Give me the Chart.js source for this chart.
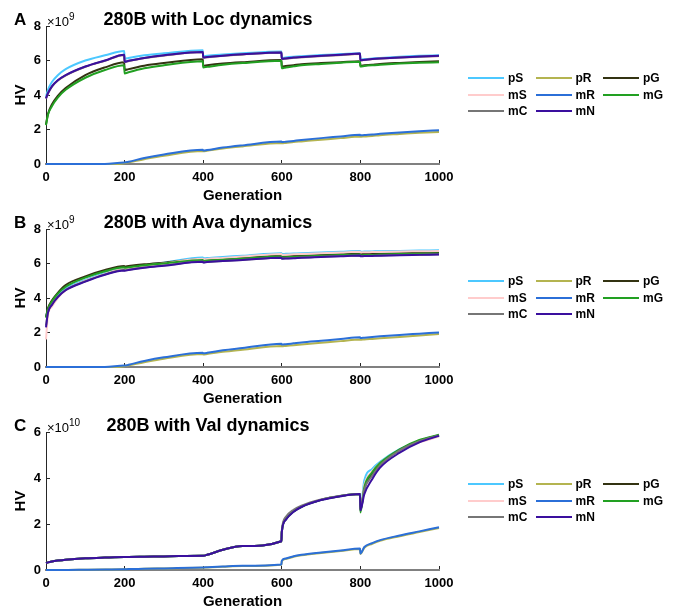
<!DOCTYPE html>
<html>
<head>
<meta charset="utf-8">
<script src="https://cdn.jsdelivr.net/npm/chart.js@4.4.0/dist/chart.umd.min.js"></script>
<style>
body { margin: 0; background: #fff; font-family: "Liberation Sans", Arial, sans-serif; }
.panel { position: absolute; left: 0; width: 689px; height: 205px; }
.panel canvas { position: absolute; left: 0; top: 0; }
.tag, .ttl, .exp { position: absolute; line-height: 1; white-space: nowrap; color: #000; }
.tag { left: 14px; top: 11px; font-size: 17px; font-weight: bold; }
.ttl { left: 8px; width: 400px; text-align: center; top: 10px; font-size: 18px; font-weight: bold; }
.exp { left: 47px; top: 12px; font-size: 13px; }
.exp span { font-size: 10px; vertical-align: 6px; }
.leg { position: absolute; left: 468px; top: 70px; width: 210px; }
.leg .it { position: absolute; display: flex; align-items: center; height: 16px; font-size: 12px; font-weight: bold; }
.leg .ln { width: 36px; height: 2px; margin-right: 4px; }
</style>
</head>
<body>
<div class="panel" id="pA"><canvas id="cA" width="689" height="205"></canvas></div>
<div class="panel" id="pB" style="top:203px"><canvas id="cB" width="689" height="205"></canvas></div>
<div class="panel" id="pC" style="top:406px"><canvas id="cC" width="689" height="205"></canvas></div>
<script>
// 세대(x축)
const gens = [0, 5, 15, 30, 50, 100, 150, 199, 200, 210, 250, 300, 399, 400, 410, 450, 500, 599, 600, 610, 630, 650, 700, 750, 799, 800, 810, 830, 850, 900, 950, 1000];

const names = ["pS", "pR", "pG", "mS", "mR", "mG", "mC", "mN"];
const colors = ["#4cc8ff", "#b4b450", "#333312", "#ffcccc", "#2b6fd8", "#22a022", "#767676", "#3a0f9e"];

// A: Loc dynamics (x1e9)
const locPS = [3.9, 4.3, 4.75, 5.15, 5.5, 6.0, 6.3, 6.55, 6.1, 6.15, 6.3, 6.42, 6.6, 6.25, 6.28, 6.35, 6.42, 6.52, 6.15, 6.18, 6.22, 6.25, 6.32, 6.37, 6.42, 6.05, 6.08, 6.12, 6.15, 6.22, 6.27, 6.3];
const locPR = [0, 0, 0, 0, 0, 0, 0, 0.05, 0.06, 0.1, 0.28, 0.48, 0.76, 0.74, 0.77, 0.9, 1.02, 1.22, 1.2, 1.22, 1.27, 1.31, 1.41, 1.5, 1.6, 1.58, 1.6, 1.63, 1.67, 1.74, 1.81, 1.86];
const locPG = [2.3, 2.9, 3.45, 3.95, 4.4, 5.15, 5.6, 5.9, 5.45, 5.5, 5.7, 5.85, 6.07, 5.7, 5.73, 5.82, 5.9, 6.03, 5.65, 5.68, 5.73, 5.78, 5.85, 5.9, 5.95, 5.7, 5.72, 5.76, 5.8, 5.86, 5.91, 5.95];
const locMS = [3.78, 4.08, 4.48, 4.83, 5.13, 5.63, 5.98, 6.31, 5.91, 5.96, 6.13, 6.28, 6.48, 6.16, 6.18, 6.26, 6.34, 6.45, 6.08, 6.1, 6.15, 6.18, 6.25, 6.31, 6.38, 6.0, 6.02, 6.07, 6.1, 6.16, 6.21, 6.25];
const locMR = [0, 0, 0, 0, 0, 0, 0, 0.09, 0.09, 0.13, 0.35, 0.55, 0.82, 0.78, 0.81, 0.95, 1.08, 1.3, 1.27, 1.29, 1.34, 1.39, 1.5, 1.6, 1.7, 1.66, 1.68, 1.71, 1.75, 1.83, 1.9, 1.96];
const locMG = [2.25, 2.85, 3.35, 3.85, 4.3, 5.0, 5.45, 5.72, 5.25, 5.32, 5.55, 5.72, 5.95, 5.6, 5.63, 5.75, 5.85, 5.98, 5.55, 5.6, 5.66, 5.72, 5.8, 5.87, 5.93, 5.65, 5.68, 5.72, 5.75, 5.82, 5.87, 5.9];
const locMC = [3.79, 4.09, 4.49, 4.84, 5.14, 5.64, 5.99, 6.32, 5.92, 5.97, 6.14, 6.29, 6.49, 6.17, 6.19, 6.27, 6.35, 6.46, 6.09, 6.11, 6.16, 6.19, 6.26, 6.32, 6.39, 6.01, 6.03, 6.08, 6.11, 6.17, 6.22, 6.26];
const locMN = [3.8, 4.1, 4.5, 4.85, 5.15, 5.65, 6.0, 6.33, 5.93, 5.98, 6.15, 6.3, 6.5, 6.18, 6.2, 6.28, 6.36, 6.47, 6.1, 6.12, 6.17, 6.2, 6.27, 6.33, 6.4, 6.02, 6.04, 6.09, 6.12, 6.18, 6.23, 6.27];

// B: Ava dynamics (x1e9)
const avaPS = [2.9, 3.35, 3.75, 4.15, 4.55, 5.05, 5.45, 5.72, 5.7, 5.73, 5.9, 6.05, 6.35, 6.3, 6.32, 6.38, 6.45, 6.6, 6.55, 6.56, 6.58, 6.6, 6.64, 6.68, 6.72, 6.68, 6.69, 6.7, 6.71, 6.73, 6.75, 6.77];
const avaPR = [0, 0, 0, 0, 0, 0, 0, 0.05, 0.06, 0.1, 0.28, 0.48, 0.75, 0.72, 0.75, 0.88, 1.0, 1.22, 1.2, 1.22, 1.26, 1.3, 1.4, 1.5, 1.6, 1.58, 1.6, 1.63, 1.66, 1.74, 1.83, 1.92];
const avaPG = [2.9, 3.4, 3.85, 4.3, 4.75, 5.25, 5.62, 5.85, 5.82, 5.85, 5.95, 6.05, 6.25, 6.2, 6.22, 6.28, 6.33, 6.45, 6.4, 6.41, 6.43, 6.45, 6.5, 6.54, 6.58, 6.54, 6.55, 6.56, 6.57, 6.6, 6.61, 6.62];
const avaMS = [1.6, 3.0, 3.5, 4.0, 4.45, 5.0, 5.4, 5.68, 5.66, 5.7, 5.86, 6.0, 6.28, 6.24, 6.26, 6.32, 6.4, 6.55, 6.5, 6.51, 6.53, 6.55, 6.6, 6.64, 6.68, 6.64, 6.65, 6.66, 6.67, 6.7, 6.71, 6.72];
const avaMR = [0, 0, 0, 0, 0, 0, 0, 0.09, 0.08, 0.13, 0.35, 0.56, 0.82, 0.8, 0.82, 0.97, 1.1, 1.35, 1.3, 1.32, 1.37, 1.42, 1.52, 1.62, 1.72, 1.68, 1.7, 1.74, 1.78, 1.86, 1.93, 2.0];
const avaMG = [2.85, 3.35, 3.8, 4.25, 4.65, 5.18, 5.55, 5.78, 5.75, 5.78, 5.9, 6.0, 6.2, 6.15, 6.17, 6.22, 6.28, 6.4, 6.35, 6.36, 6.38, 6.4, 6.45, 6.49, 6.52, 6.48, 6.49, 6.5, 6.52, 6.55, 6.57, 6.58];
const avaMC = [2.4, 3.17, 3.62, 4.07, 4.47, 4.97, 5.37, 5.62, 5.6, 5.64, 5.77, 5.89, 6.11, 6.07, 6.09, 6.15, 6.21, 6.34, 6.29, 6.3, 6.32, 6.35, 6.39, 6.43, 6.47, 6.43, 6.44, 6.45, 6.46, 6.49, 6.51, 6.53];
const avaMN = [2.3, 3.15, 3.6, 4.05, 4.45, 4.95, 5.35, 5.6, 5.58, 5.62, 5.75, 5.87, 6.1, 6.06, 6.08, 6.14, 6.2, 6.33, 6.28, 6.29, 6.31, 6.34, 6.38, 6.42, 6.46, 6.42, 6.43, 6.44, 6.45, 6.48, 6.5, 6.52];

// C: Val dynamics (x1e10)
const valPS = [0.3, 0.33, 0.37, 0.41, 0.45, 0.51, 0.54, 0.56, 0.56, 0.57, 0.58, 0.59, 0.62, 0.62, 0.66, 0.88, 1.04, 1.25, 1.65, 2.2, 2.55, 2.75, 3.05, 3.22, 3.3, 2.6, 3.9, 4.4, 4.7, 5.25, 5.6, 5.83];
const valPR = [0, 0, 0, 0, 0, 0.01, 0.02, 0.03, 0.03, 0.04, 0.05, 0.07, 0.1, 0.1, 0.11, 0.14, 0.17, 0.23, 0.38, 0.48, 0.58, 0.64, 0.74, 0.83, 0.91, 0.7, 0.97, 1.14, 1.27, 1.47, 1.65, 1.83];
const valPG = [0.3, 0.33, 0.37, 0.41, 0.45, 0.51, 0.54, 0.56, 0.56, 0.57, 0.58, 0.59, 0.62, 0.62, 0.66, 0.88, 1.04, 1.25, 1.65, 2.2, 2.55, 2.75, 3.05, 3.22, 3.3, 2.6, 3.55, 4.2, 4.6, 5.22, 5.62, 5.86];
const valMS = [0.3, 0.33, 0.37, 0.41, 0.45, 0.51, 0.54, 0.56, 0.56, 0.57, 0.58, 0.59, 0.62, 0.62, 0.66, 0.88, 1.04, 1.25, 1.65, 2.22, 2.56, 2.76, 3.06, 3.22, 3.3, 2.6, 3.7, 4.3, 4.65, 5.2, 5.55, 5.8];
const valMR = [0, 0, 0, 0, 0, 0.01, 0.02, 0.03, 0.03, 0.04, 0.05, 0.07, 0.11, 0.11, 0.12, 0.15, 0.18, 0.24, 0.4, 0.5, 0.6, 0.66, 0.76, 0.85, 0.93, 0.72, 1.0, 1.17, 1.3, 1.5, 1.68, 1.86];
const valMG = [0.3, 0.33, 0.37, 0.41, 0.45, 0.51, 0.54, 0.56, 0.56, 0.57, 0.58, 0.59, 0.62, 0.62, 0.66, 0.88, 1.04, 1.25, 1.65, 2.2, 2.55, 2.75, 3.05, 3.22, 3.3, 2.5, 3.6, 4.25, 4.65, 5.25, 5.65, 5.88];
const valMC = [0.3, 0.33, 0.37, 0.41, 0.45, 0.51, 0.54, 0.56, 0.56, 0.57, 0.58, 0.59, 0.62, 0.62, 0.66, 0.88, 1.04, 1.25, 1.7, 2.3, 2.62, 2.8, 3.07, 3.23, 3.3, 2.6, 3.5, 4.1, 4.55, 5.2, 5.6, 5.85];
const valMN = [0.3, 0.33, 0.37, 0.41, 0.45, 0.51, 0.54, 0.56, 0.56, 0.57, 0.58, 0.59, 0.62, 0.62, 0.66, 0.88, 1.04, 1.25, 1.65, 2.18, 2.53, 2.74, 3.04, 3.21, 3.3, 2.6, 3.3, 3.95, 4.45, 5.1, 5.55, 5.83];

const axisFont = { family: "'Liberation Sans', Arial, sans-serif", size: 13, weight: "bold" };
const titleFont = { family: "'Liberation Sans', Arial, sans-serif", size: 15, weight: "bold" };

function makePanel(panelId, canvasId, letter, title, power, yMax, series) {
    const panel = document.getElementById(panelId);
    panel.insertAdjacentHTML("beforeend",
        '<div class="tag">' + letter + '</div>' +
        '<div class="exp">\u00d710<span>' + power + '</span></div>' +
        '<div class="ttl">' + title + '</div>');

    // 범례 (3열, 행 우선)
    let leg = '<div class="leg">';
    names.forEach((n, i) => {
        const col = i % 3, row = Math.floor(i / 3);
        leg += '<div class="it" style="left:' + (col * 67.5) + 'px;top:' + (row * 16.5) + 'px">' +
            '<div class="ln" style="background:' + colors[i] + '"></div>' + n + '</div>';
    });
    panel.insertAdjacentHTML("beforeend", leg + '</div>');

    // 나중 계열이 위에 그려지도록 order 지정
    const datasets = series.map((vals, i) => ({
        label: names[i],
        data: gens.map((g, k) => ({ x: g, y: vals[k] })),
        borderColor: colors[i],
        borderWidth: 2,
        pointRadius: 0,
        fill: false,
        cubicInterpolationMode: "monotone",
        clip: 6,
        order: names.length - i,
    }));

    new Chart(document.getElementById(canvasId).getContext("2d"), {
        type: "line",
        data: { datasets: datasets },
        options: {
            responsive: false,
            animation: false,
            layout: { padding: { top: 26, right: 250, left: 0, bottom: 0 } },
            plugins: { legend: { display: false }, tooltip: { enabled: false } },
            scales: {
                x: {
                    type: "linear",
                    min: 0,
                    max: 1000,
                    afterFit: (s) => { s.height = 41; },
                    border: { color: "#808080", width: 2 },
                    grid: { drawOnChartArea: false, tickLength: -4, color: "#262626" },
                    ticks: { stepSize: 200, padding: 10, color: "#000", font: axisFont, maxRotation: 0, callback: (v) => String(v) },
                    title: { display: true, text: "Generation", color: "#000", font: titleFont, padding: { top: 0, bottom: 0 } },
                },
                y: {
                    min: 0,
                    max: yMax,
                    afterFit: (s) => { s.width = 46; },
                    border: { color: "#262626", width: 1 },
                    grid: { drawOnChartArea: false, tickLength: -4, color: "#262626" },
                    ticks: { stepSize: 2, padding: 9, color: "#000", font: axisFont },
                    title: { display: true, text: "HV", color: "#000", font: titleFont, padding: { top: 12, bottom: 0 } },
                },
            },
        },
    });
}

makePanel("pA", "cA", "A", "280B with Loc dynamics", 9, 8, [locPS, locPR, locPG, locMS, locMR, locMG, locMC, locMN]);
makePanel("pB", "cB", "B", "280B with Ava dynamics", 9, 8, [avaPS, avaPR, avaPG, avaMS, avaMR, avaMG, avaMC, avaMN]);
makePanel("pC", "cC", "C", "280B with Val dynamics", 10, 6, [valPS, valPR, valPG, valMS, valMR, valMG, valMC, valMN]);
</script>
</body>
</html>
